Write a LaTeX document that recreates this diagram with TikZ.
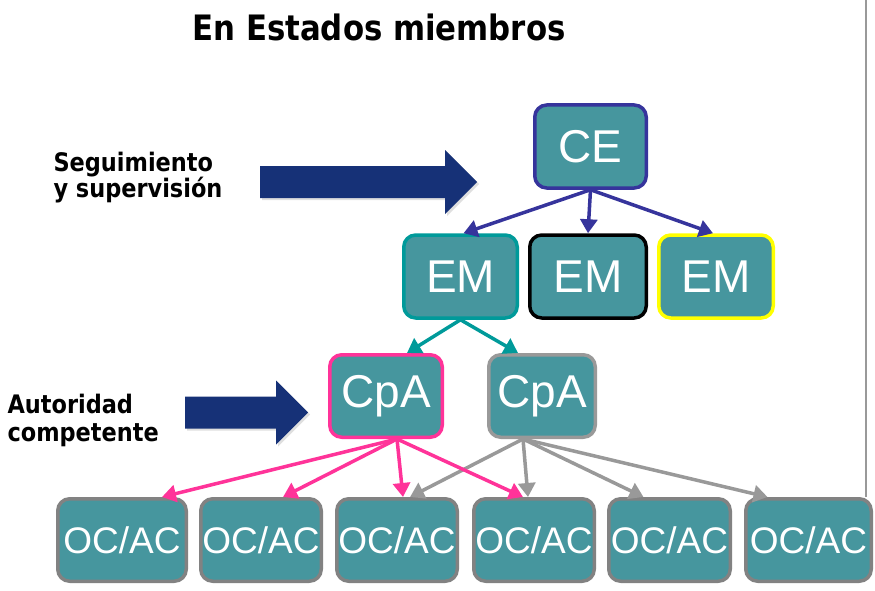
\documentclass[tikz,border=0pt]{standalone}
\usepackage{fontspec}
\usetikzlibrary{arrows.meta,shadows}
\setmainfont{Liberation Sans}
\newfontfamily\headfont[FakeStretch=0.88]{DejaVu Sans Bold}
\definecolor{boxteal}{HTML}{46969E}
\definecolor{ceblue}{HTML}{36349C}
\definecolor{emteal}{HTML}{009A9A}
\definecolor{emyellow}{HTML}{FFFF00}
\definecolor{cpapink}{HTML}{FF3399}
\definecolor{cpagray}{HTML}{999999}
\definecolor{ocgray}{HTML}{828282}
\definecolor{navy}{HTML}{163177}
\newcommand{\fatarrow}[3]{\fill[navy, drop shadow={opacity=0.25,shadow xshift=2pt,shadow yshift=-2pt}]
  (#1,#2-16) -- ++(#3-32,0) -- ++(0,-16) -- ++(32,32) -- ++(-32,32) -- ++(0,-16) -- ++(-#3+32,0) -- cycle;}

\begin{document}
\begin{tikzpicture}[x=1pt,y=-1pt,
    box/.style={draw, rounded corners=12pt, fill=boxteal, text=white, line width=3.5pt,
      inner sep=0pt, minimum height=83pt, font=\fontsize{46}{50}\selectfont},
    ocbox/.style={box, draw=ocgray, minimum height=82.5pt, font=\fontsize{37}{40}\selectfont},
    link/.style={line width=3.5pt, -{Triangle[length=14pt,width=17pt]}},
    tag/.style={anchor=base west, align=left, font=\headfont\fontsize{25.5}{26}\selectfont}]
  \useasboundingbox (0,0) rectangle (875,591);

  \node[anchor=base, font=\headfont\fontsize{35}{38}\selectfont] (title) at (379,41) {En Estados miembros};

  \node[tag] (seg) at (50,197) {Seguimiento\\y supervisión};
  \node[tag, font=\headfont\fontsize{25.5}{28.5}\selectfont] (aut) at (4,441.5) {Autoridad\\competente};
  \fatarrow{260}{182}{217}
  \fatarrow{185}{412.5}{123}

  \node[box, draw=ceblue, minimum width=111.5pt] (ce) at (590.5,146.5) {CE};

  \node[box, draw=emteal, minimum width=113.5pt] (em1) at (460.5,276.5) {EM};
  \node[box, draw=black, minimum width=116.5pt] (em2) at (588,276.5) {EM};
  \node[box, draw=emyellow, minimum width=114.5pt] (em3) at (716,276.5) {EM};

  \node[box, draw=cpapink, minimum width=112.5pt, minimum height=82.5pt] (cpa1) at (386,396) {CpA};
  \node[box, draw=cpagray, minimum width=106.5pt, minimum height=82.5pt] (cpa2) at (542,396) {CpA};

  \node[ocbox, minimum width=128.5pt] (oc1) at (122,540) {OC/AC};
  \node[ocbox, minimum width=120.5pt] (oc2) at (261,540) {OC/AC};
  \node[ocbox, minimum width=120.5pt] (oc3) at (397,540) {OC/AC};
  \node[ocbox, minimum width=120.5pt] (oc4) at (534,540) {OC/AC};
  \node[ocbox, minimum width=121.5pt] (oc5) at (669.5,540) {OC/AC};
  \node[ocbox, minimum width=125.5pt] (oc6) at (808.5,540) {OC/AC};

  \draw[link, ceblue] (ce.south) -- ([xshift=3pt]em1.north);
  \draw[link, ceblue] (ce.south) -- (em2.north);
  \draw[link, ceblue] (ce.south) -- ([xshift=-3pt]em3.north);

  \draw[link, emteal] (em1.south) -- ([xshift=21pt]cpa1.north);
  \draw[link, emteal] (em1.south) -- ([xshift=-24pt]cpa2.north);

  \draw[link, cpagray] ([xshift=-19pt]cpa2.south) -- ([xshift=13pt]oc3.north);
  \draw[link, cpagray] ([xshift=-19pt]cpa2.south) -- ([xshift=-6pt]oc4.north);
  \draw[link, cpagray] ([xshift=-19pt]cpa2.south) -- ([xshift=-26pt]oc5.north);
  \draw[link, cpagray] ([xshift=-19pt]cpa2.south) -- ([xshift=-41pt]oc6.north);

  \draw[link, cpapink] ([xshift=11pt]cpa1.south) -- ([xshift=40pt]oc1.north);
  \draw[link, cpapink] ([xshift=11pt]cpa1.south) -- ([xshift=22pt]oc2.north);
  \draw[link, cpapink] ([xshift=11pt]cpa1.south) -- ([xshift=6pt]oc3.north);
  \draw[link, cpapink] ([xshift=11pt]cpa1.south) -- ([xshift=-11pt]oc4.north);

  \coordinate (rule) at (866,0);
  \draw[cpagray, line width=1.5pt] (rule) -- (rule |- oc6.north);
\end{tikzpicture}
\end{document}
